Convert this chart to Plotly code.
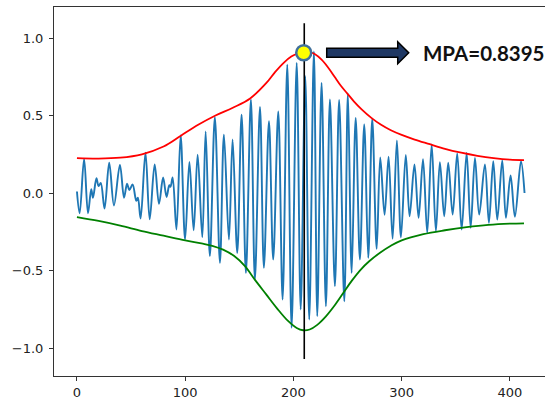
import plotly.graph_objects as go

# ---- data ----
sig_x = [0, 2.5, 6.6, 10.2, 13.2, 14.8, 18, 20, 22, 25.5, 29.8, 34.2, 39.7, 43.5, 46.3, 48.4, 51.4,
         54.8, 56.3, 58.8, 63.3, 67.2, 71.8, 75.8, 79.6, 82.8, 85.3, 86.4, 88.4, 91.9, 95.8, 99.9,
         103.9, 107.8, 111.5, 115.8, 118.9, 122.8, 127.4, 132.1, 135.8, 140.4, 143.8, 148.1, 152.1,
         156.1, 160.7, 164.4, 169.1, 172.7, 177.4, 181.3, 186, 190, 194.3, 198.3, 203, 206.7, 210.9,
         214.6, 218.9, 222, 226, 230, 233.7, 238.3, 242.2, 247, 250.3, 253.8, 257.5, 261.4, 265.4,
         269.1, 272.8, 276.9, 280.2, 284.2, 287.9, 291.6, 295.6, 299.3, 303.8, 307.3, 311.8, 315.6,
         319.7, 323.6, 327.7, 331.6, 335.3, 339.3, 343, 347.1, 351.3, 355.4, 360, 363.7, 367.7, 371.6,
         376.9, 380.6, 384.6, 388.3, 392.9, 396.3, 400.6, 404.6, 410.2, 413.5]
sig_y = [0.01, -0.13, 0.22, -0.13, 0.025, -0.03, 0.095, 0.045, 0.065, -0.1, 0.195, -0.08, 0.182, -0.03,
         0.06, 0.02, 0.055, -0.05, -0.03, -0.165, 0.26, -0.17, 0.184, -0.07, 0.1, -0.025, 0.05, 0.04,
         0.1, -0.235, 0.371, -0.3, 0.2, -0.24, 0.248, -0.285, 0.398, -0.407, 0.49, -0.45, 0.377, -0.3,
         0.345, -0.386, 0.506, -0.515, 0.603, -0.558, 0.556, -0.482, 0.463, -0.429, 0.527, -0.687,
         0.828, -0.869, 0.839, -0.751, 0.753, -0.816, 0.914, -0.794, 0.71, -0.73, 0.603, -0.6, 0.6,
         -0.698, 0.642, -0.515, 0.485, -0.429, 0.442, -0.418, 0.478, -0.36, 0.23, -0.14, 0.235,
         -0.295, 0.34, -0.285, 0.245, -0.15, 0.184, -0.16, 0.218, -0.257, 0.313, -0.246, 0.199,
         -0.15, 0.195, -0.139, 0.255, -0.235, 0.259, -0.224, 0.227, -0.139, 0.184, -0.192, 0.205,
         -0.171, 0.211, -0.16, 0.113, -0.153, 0.205, 0.0]

upper_x = [0, 20, 40, 60, 80, 96, 112, 128, 144, 160, 175, 183, 191, 198, 204, 209, 214, 220, 226,
           232, 238, 244, 250, 256, 263, 272, 281, 290, 300, 312, 326, 340, 355, 370, 385, 400, 413]
upper_y = [0.225, 0.222, 0.228, 0.25, 0.3, 0.37, 0.44, 0.5, 0.55, 0.61, 0.71, 0.78, 0.84, 0.88, 0.9,
           0.91, 0.91, 0.895, 0.86, 0.81, 0.75, 0.69, 0.64, 0.59, 0.54, 0.485, 0.44, 0.405, 0.375,
           0.345, 0.315, 0.285, 0.26, 0.24, 0.225, 0.215, 0.212]

lower_x = [0, 20, 40, 60, 80, 100, 115, 125, 135, 145, 155, 165, 175, 185, 195, 203, 209, 215, 222,
           230, 238, 246, 254, 262, 270, 280, 290, 300, 320, 340, 360, 380, 400, 413]
lower_y = [-0.155, -0.18, -0.21, -0.245, -0.275, -0.305, -0.325, -0.34, -0.365, -0.405, -0.47,
           -0.565, -0.655, -0.745, -0.825, -0.87, -0.885, -0.88, -0.85, -0.795, -0.725, -0.645,
           -0.565, -0.495, -0.44, -0.385, -0.34, -0.305, -0.265, -0.24, -0.22, -0.205, -0.197, -0.195]

peak_x = 209.5
peak_y = 0.905
vline_x = 210
vline_y = [-1.07, 1.095]
label_text = "MPA=0.8395"

x_ticks = [0, 100, 200, 300, 400]
x_ticktext = ["0", "100", "200", "300", "400"]
y_ticks = [-1.0, -0.5, 0.0, 0.5, 1.0]
y_ticktext = ["\u22121.0", "\u22120.5", "0.0", "0.5", "1.0"]

# ---- layout geometry ----
W, H = 545, 401
ML, MR, MT, MB = 54, 0, 7, 25
XR = [-21.2, 432.4]
YR = [-1.18, 1.20]
pxu = (W - ML - MR) / (XR[1] - XR[0])   # px per x unit
pyu = (H - MT - MB) / (YR[1] - YR[0])   # px per y unit

fig = go.Figure()
fig.add_trace(go.Scatter(x=sig_x, y=sig_y, mode="lines",
                         line=dict(color="#1f77b4", width=1.9, shape="spline", smoothing=1.0),
                         hoverinfo="skip"))
fig.add_trace(go.Scatter(x=upper_x, y=upper_y, mode="lines",
                         line=dict(color="#ff0000", width=1.8, shape="spline"), hoverinfo="skip"))
fig.add_trace(go.Scatter(x=lower_x, y=lower_y, mode="lines",
                         line=dict(color="#008000", width=1.8, shape="spline"), hoverinfo="skip"))
fig.add_trace(go.Scatter(x=[vline_x, vline_x], y=vline_y, mode="lines",
                         line=dict(color="black", width=1.6), hoverinfo="skip"))
fig.add_trace(go.Scatter(x=[peak_x], y=[peak_y], mode="markers",
                         marker=dict(size=15, color="#ffff00", line=dict(color="#41719c", width=2.5)),
                         hoverinfo="skip"))

# block arrow (pixel-sized, placed in data space)
ax0 = peak_x + 23 / pxu
ax_head = ax0 + 71 / pxu
ax_tip = ax0 + 82 / pxu
ay = peak_y
h1 = 4.5 / pyu
h2 = 11 / pyu
path = (f"M {ax0},{ay + h1} L {ax_head},{ay + h1} L {ax_head},{ay + h2} L {ax_tip},{ay} "
        f"L {ax_head},{ay - h2} L {ax_head},{ay - h1} L {ax0},{ay - h1} Z")
fig.add_shape(type="path", path=path, xref="x", yref="y",
              fillcolor="#1f3864", line=dict(color="black", width=1.5))

fig.add_annotation(x=ax_tip + 12 / pxu, y=ay, xref="x", yref="y", text=f"<b>{label_text}</b>",
                   showarrow=False, xanchor="left", yanchor="middle",
                   font=dict(family="Lato", size=20.5, color="#111111"))

axis_common = dict(showgrid=False, zeroline=False, showline=True, linecolor="#333333", linewidth=1,
                   ticks="outside", ticklen=4, tickwidth=1, tickcolor="#333333",
                   tickfont=dict(family="DejaVu Sans", size=13, color="#222222"))
fig.update_xaxes(range=XR, tickvals=x_ticks, ticktext=x_ticktext, mirror=True, **axis_common)
fig.update_yaxes(range=YR, tickvals=y_ticks, ticktext=y_ticktext, mirror=False,
                 ticklabelstandoff=3, **axis_common)

fig.update_layout(width=W, height=H, margin=dict(l=ML, r=MR, t=MT, b=MB, pad=0),
                  paper_bgcolor="white", plot_bgcolor="white", showlegend=False)

fig.write_html("out.html")
